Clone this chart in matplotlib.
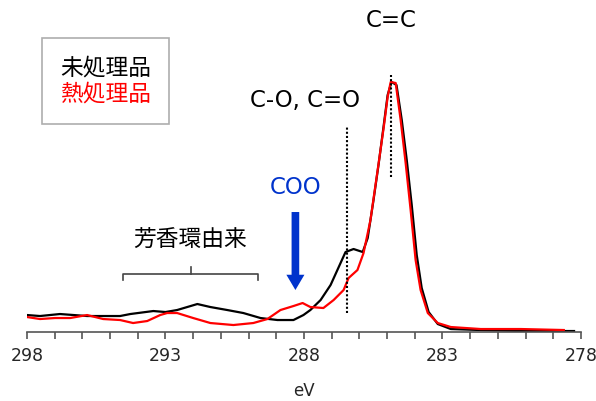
import matplotlib
matplotlib.use("Agg")
import matplotlib.pyplot as plt

plt.rcParams["font.family"] = ["Noto Sans CJK JP", "DejaVu Sans"]

# binding energy (eV) / intensity (arb.)
untreated_ev = [298.0, 297.53, 296.81, 295.83, 295.0, 294.64, 294.27, 293.44, 293.0,
                292.58, 291.85, 291.38, 290.77, 290.19, 289.57, 288.96, 288.38, 288.02,
                287.77, 287.40, 287.04, 286.68, 286.50, 286.21, 285.88, 285.70, 285.49,
                285.31, 285.12, 284.98, 284.84, 284.66, 284.47, 284.29, 284.11, 283.93,
                283.75, 283.50, 283.17, 282.70, 281.62, 280.17, 279.09, 278.25]
untreated_int = [17, 16, 18, 16, 16, 16, 18, 21, 20,
                 22, 28, 25, 22, 19, 14, 12, 12, 17,
                 22, 32, 47, 69, 80, 83, 80, 94, 132,
                 167, 207, 237, 250, 247, 212, 172, 127, 77,
                 44, 20, 8, 3, 2, 1, 1, 1]

heated_ev = [298.0, 297.53, 296.99, 296.44, 295.83, 295.25, 294.64, 294.17, 293.66,
             293.19, 292.94, 292.58, 292.0, 291.38, 290.55, 289.83, 289.32, 288.85,
             288.38, 288.05, 287.77, 287.30, 286.93, 286.57, 286.39, 286.07, 285.85,
             285.60, 285.34, 285.12, 284.98, 284.87, 284.69, 284.51, 284.33, 284.15,
             283.97, 283.79, 283.53, 283.17, 282.70, 281.62, 280.17, 278.62]
heated_int = [15, 13, 14, 14, 17, 13, 12, 9, 11,
              17, 19, 19, 14, 9, 7, 9, 13, 22,
              26, 29, 25, 24, 32, 42, 54, 62, 79,
              112, 162, 205, 235, 250, 249, 212, 169, 122,
              72, 42, 19, 9, 5, 3, 3, 2]

series_labels = ["未処理品", "熱処理品"]
series_colors = ["black", "#FF0000"]

major_ticks = [298, 293, 288, 283, 278]
minor_ticks = list(range(278, 299))


def main():
  figure = plt.figure(figsize=(5.96, 4.01), dpi=100)
  axes = figure.add_axes([0.0453, 0.172, 0.9295, 0.828])

  black_line, = axes.plot(untreated_ev, untreated_int, color=series_colors[0], lw=1.6, label=series_labels[0])
  red_line, = axes.plot(heated_ev, heated_int, color=series_colors[1], lw=1.6, label=series_labels[1])

  for side in ["top", "right", "left"]:
    axes.spines[side].set_visible(False)
  axes.spines["bottom"].set_color("#555555")
  axes.spines["bottom"].set_linewidth(1.2)
  axes.set_yticks([])
  axes.set_xticks(major_ticks)
  axes.set_xticks(minor_ticks, minor=True)
  axes.set_xticklabels([str(t) for t in major_ticks], family="DejaVu Sans")
  axes.tick_params(axis="x", which="both", direction="out", length=5, width=1.2, color="#555555")
  axes.tick_params(axis="x", which="major", labelsize=12.5, labelcolor="#262626", pad=6)
  axes.set_xlabel("eV", fontsize=12, color="#262626", labelpad=12, family="DejaVu Sans")

  # dotted guide lines
  axes.plot([286.43, 286.43], [19, 205], color="black", lw=1.5, ls=(0, (1, 1)))
  axes.plot([284.87, 284.87], [155, 257], color="black", lw=1.5, ls=(0, (1, 1)))

  axes.text(284.87, 312, "C=C", ha="center", va="center", fontsize=16.5, color="black", family="DejaVu Sans")
  axes.text(287.95, 232, "C-O, C=O", ha="center", va="center", fontsize=16.5, color="black", family="DejaVu Sans")
  axes.text(288.31, 145, "COO", ha="center", va="center", fontsize=16.5, color="#0033CC", family="DejaVu Sans")
  axes.annotate("", xy=(288.31, 42), xytext=(288.31, 120),
                arrowprops=dict(arrowstyle="simple,head_width=1.3,head_length=1.1,tail_width=0.55",
                                color="#0033CC", lw=0, shrinkA=0, shrinkB=0))

  # bracket for aromatic region
  axes.plot([294.53, 294.53, 289.65, 289.65], [52, 58, 58, 52], color="#444444", lw=1.2)
  axes.plot([292.07, 292.07], [58, 65], color="#444444", lw=1.2)
  axes.text(292.1, 92, "芳香環由来", ha="center", va="center", fontsize=16.4, color="black")

  axes.set_xlim(298, 278)
  axes.set_ylim(0, 332)

  legend = axes.legend(handles=[black_line, red_line], loc="upper left", bbox_to_anchor=(0.027, 0.886),
                       handlelength=0, handletextpad=0, prop={"size": 16.4}, fancybox=False,
                       edgecolor="#999999", borderpad=0.8, labelspacing=0.15, borderaxespad=0)
  legend.get_frame().set_linewidth(1.2)
  for text, color in zip(legend.get_texts(), series_colors):
    text.set_color(color)
  for handle in legend.legend_handles:
    handle.set_visible(False)

  figure.savefig("out.png", dpi=100)
  plt.close(figure)


if __name__ == "__main__":
  main()
